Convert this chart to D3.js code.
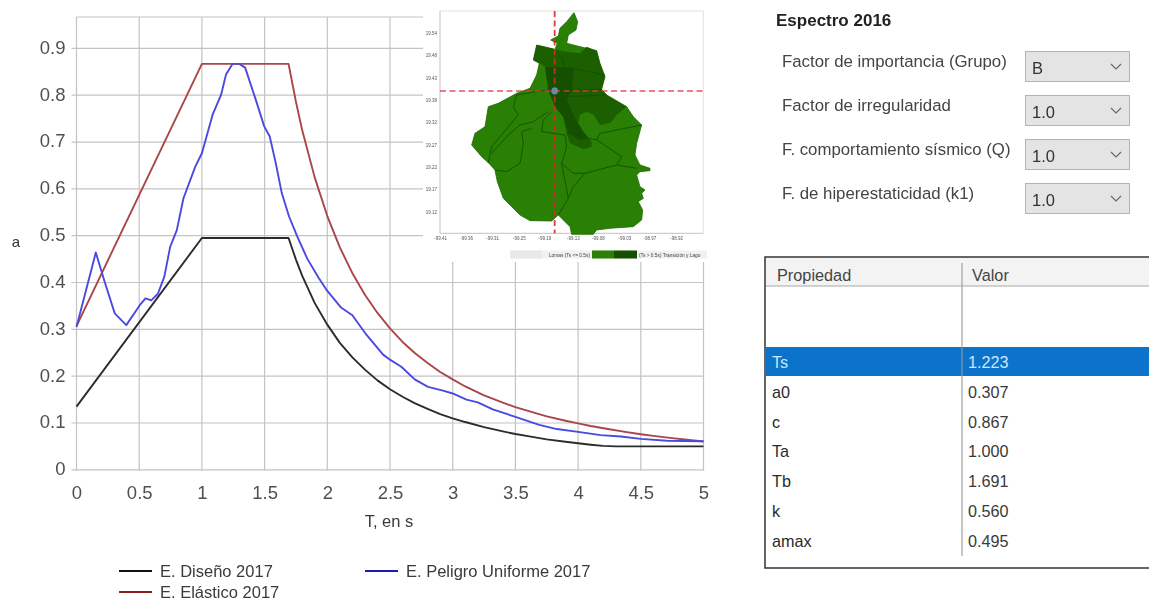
<!DOCTYPE html>
<html lang="es">
<head>
<meta charset="utf-8">
<script src="https://cdnjs.cloudflare.com/ajax/libs/d3/7.8.5/d3.min.js"></script>
<style>
html,body{margin:0;padding:0;background:#fff;overflow:hidden}
svg{display:block;font-family:"Liberation Sans",Arial,sans-serif;filter:blur(0.4px)}
</style>
</head>
<body>
<svg id="c" width="1149" height="601"></svg>
<script>
// ---------- chart data ----------
const xTicks = [0,0.5,1,1.5,2,2.5,3,3.5,4,4.5,5];
const yTicks = [0,0.1,0.2,0.3,0.4,0.5,0.6,0.7,0.8,0.9];
const disenoT = [0,1,1.691,1.75,1.8,1.9,2,2.1,2.2,2.3,2.4,2.5,2.6,2.7,2.8,2.9,3,3.1,3.25,3.4,3.5,3.6,3.75,3.9,4,4.1,4.2,4.3,5];
const disenoA = [0.135,0.495,0.495,0.449,0.414,0.356,0.31,0.271,0.24,0.214,0.191,0.172,0.156,0.142,0.13,0.119,0.11,0.102,0.091,0.082,0.0765,0.0718,0.065,0.0598,0.0566,0.0535,0.051,0.05,0.05];
const elasticoT = [0,1,1.691,1.75,1.8,1.9,2,2.1,2.2,2.3,2.4,2.5,2.6,2.7,2.8,2.9,3,3.1,3.25,3.4,3.5,3.6,3.75,3.9,4,4.1,4.25,4.35,4.5,4.6,4.75,4.85,5];
const elasticoA = [0.307,0.867,0.867,0.786,0.725,0.624,0.542,0.475,0.42,0.374,0.335,0.302,0.273,0.249,0.228,0.209,0.193,0.178,0.159,0.1435,0.134,0.1257,0.114,0.1048,0.099,0.0936,0.0865,0.082,0.076,0.0725,0.0677,0.0647,0.0605];
const peligroT = [0,0.154,0.225,0.305,0.397,0.503,0.55,0.596,0.649,0.70,0.747,0.80,0.853,0.948,1.0,1.086,1.152,1.192,1.245,1.298,1.345,1.43,1.496,1.541,1.589,1.637,1.695,1.761,1.84,1.933,2.0,2.112,2.2,2.31,2.445,2.49,2.59,2.697,2.803,2.923,3,3.11,3.2,3.32,3.5,3.69,3.83,4,4.18,4.34,4.5,4.71,5];
const peligroA = [0.305,0.464,0.401,0.334,0.309,0.351,0.366,0.362,0.376,0.412,0.476,0.512,0.58,0.648,0.676,0.759,0.80,0.844,0.867,0.867,0.859,0.79,0.734,0.712,0.655,0.591,0.541,0.498,0.451,0.409,0.382,0.346,0.33,0.289,0.246,0.237,0.22,0.193,0.177,0.169,0.163,0.15,0.144,0.129,0.113,0.096,0.087,0.081,0.074,0.071,0.066,0.062,0.061];
const seriesNames = ["E. Diseño 2017","E. Elástico 2017","E. Peligro Uniforme 2017"];
const seriesColors = ["#2c2c2c","#aa4648","#4a4ae0"];
const legendColors = ["#111111","#8e1c22","#1c1cb4"];

// ---------- side panel data ----------
const formTitle = "Espectro 2016";
const formLabels = ["Factor de importancia (Grupo)","Factor de irregularidad","F. comportamiento sísmico (Q)","F. de hiperestaticidad (k1)"];
const formValues = ["B","1.0","1.0","1.0"];
const tableHeader = ["Propiedad","Valor"];
const tableProps = ["Ts","a0","c","Ta","Tb","k","amax"];
const tableVals = ["1.223","0.307","0.867","1.000","1.691","0.560","0.495"];

// ---------- inset map data (map grid units) ----------
const mapLonLabels = ["-99.41","-99.36","-99.31","-99.25","-99.19","-99.13","-99.08","-99.03","-98.97","-98.92"];
const mapLonUnits = [62,140,218,298,375,460,535,615,690,770];
const mapLatLabels = ["19.54","19.48","19.43","19.38","19.32","19.27","19.22","19.17","19.12"];
const mapLatUnits = [100,167,235,302,369,436,503,570,637];
const cityOutline = [[462,38],[473,65],[468,90],[445,105],[440,130],[480,140],[530,152],[540,190],[555,230],[545,268],[560,285],[620,320],[640,350],[665,375],[650,430],[645,465],[660,495],[690,505],[690,512],[660,515],[650,525],[660,560],[675,570],[665,580],[670,595],[655,605],[668,630],[665,660],[640,680],[570,685],[530,690],[520,703],[455,703],[450,680],[415,645],[395,663],[330,662],[300,645],[250,595],[232,545],[225,510],[205,488],[185,470],[155,435],[165,400],[195,380],[205,320],[235,310],[290,280],[330,265],[350,225],[358,190],[340,180],[350,135],[405,148],[412,130],[392,120],[415,108],[420,85],[440,65]];
const lakeZone = [[350,135],[405,148],[440,155],[480,160],[500,140],[530,152],[540,190],[555,230],[545,268],[560,285],[620,320],[590,345],[572,368],[540,375],[522,345],[500,335],[480,345],[475,370],[490,395],[515,425],[515,440],[490,448],[450,430],[440,400],[430,350],[405,320],[385,270],[375,200],[358,190],[340,180]];
const transitionZone = [[375,200],[460,205],[455,270],[440,300],[460,345],[475,372],[490,395],[505,415],[480,420],[445,400],[430,350],[405,320],[385,270]];
const districtLines = [
 [[290,285],[280,320],[295,345],[215,440],[205,488]],
 [[385,335],[340,365],[300,375],[270,400],[215,460]],
 [[365,395],[435,405],[440,440],[425,490],[445,595],[415,645]],
 [[335,385],[305,395],[310,430],[300,490],[260,515],[225,510]],
 [[365,395],[370,360],[395,335]],
 [[530,420],[540,400],[665,375]],
 [[440,400],[530,420],[605,470],[590,495],[495,520],[460,560],[445,595]],
 [[590,495],[650,505]],
 [[425,490],[460,520],[495,520]],
 [[375,205],[460,205],[555,225]],
 [[460,205],[455,270],[545,268]],
 [[400,150],[430,180],[430,205]],
 [[290,285],[350,275],[385,270]],
 [[450,290],[560,285]]
];
const crossUnit = [404,273];
const mapLegendLabels = ["Lomas (Ts <= 0.5s)","(Ts > 0.5s) Transición y Lago"];

// ---------- drawing ----------
const svg = d3.select("#c");
const x = d3.scaleLinear().domain([0,5]).range([76.5,703.5]);
const y = d3.scaleLinear().domain([0,0.9]).range([469.8,48.4]);
const plotTop = 17;
const gridCol = "#c4c4c4";

// grid
svg.append("g").selectAll("line").data(xTicks).join("line")
  .attr("x1",d=>x(d)).attr("x2",d=>x(d)).attr("y1",plotTop).attr("y2",y(0)+1)
  .attr("stroke",gridCol).attr("stroke-width",1.2);
svg.append("g").selectAll("line").data(yTicks).join("line")
  .attr("x1",x(0)-5).attr("x2",x(5)).attr("y1",d=>y(d)).attr("y2",d=>y(d))
  .attr("stroke",gridCol).attr("stroke-width",1.2);
svg.append("line").attr("x1",x(0)).attr("x2",x(5)).attr("y1",plotTop).attr("y2",plotTop)
  .attr("stroke",gridCol).attr("stroke-width",1.2);

// axes (labels only: the grid above carries the lines)
const xAxis = svg.append("g").attr("transform",`translate(0,${y(0)})`)
  .call(d3.axisBottom(x).tickValues(xTicks).tickFormat(d3.format("~g")).tickSize(0).tickPadding(16));
const yAxis = svg.append("g").attr("transform",`translate(${x(0)},-1)`)
  .call(d3.axisLeft(y).tickValues(yTicks).tickFormat(d3.format("~g")).tickSize(0).tickPadding(11));
[xAxis,yAxis].forEach(a=>{a.select(".domain").remove();
  a.selectAll("text").attr("font-size",18.5).attr("font-family","'Liberation Sans',Arial,sans-serif").attr("fill","#505050");});

svg.append("text").attr("x",389).attr("y",527).attr("text-anchor","middle").attr("font-size",16.5).attr("fill","#3a3a3a").text("T, en s");
svg.append("text").attr("x",16).attr("y",247).attr("text-anchor","middle").attr("font-size",15).attr("fill","#333").text("a");

// series
const zipXY = (a,b)=>a.map((v,i)=>[v,b[i]]);
const curves = [zipXY(disenoT,disenoA),zipXY(elasticoT,elasticoA),zipXY(peligroT,peligroA)];
const line = d3.line().x(d=>x(d[0])).y(d=>y(d[1]));
svg.append("g").selectAll("path").data(curves).join("path")
  .attr("d",d=>line(d))
  .attr("fill","none").attr("stroke-linejoin","round").attr("stroke",(d,i)=>seriesColors[i]).attr("stroke-width",1.9);

// legend
const legendPos = [[119,571],[119,592],[365,571]];
const lg = svg.append("g").selectAll("g").data(seriesNames).join("g")
  .attr("transform",(d,i)=>`translate(${legendPos[i][0]},${legendPos[i][1]})`);
lg.append("line").attr("x1",0).attr("x2",33).attr("stroke",(d,i)=>legendColors[i]).attr("stroke-width",2);
lg.append("text").attr("x",41).attr("y",5.5).attr("font-size",16.5).attr("fill","#3a3a3a").text(d=>d);

// inset map
const mx = d3.scaleLinear().domain([60,850]).range([440,703.3]);
const my = d3.scaleLinear().domain([33,700]).range([11,233.3]);
const mapG = svg.append("g");
mapG.append("rect").attr("x",423).attr("y",8).attr("width",285).attr("height",254).attr("fill","#fff");
const mapBody = mapG.append("g").style("filter","blur(0.7px)");
mapBody.append("path").attr("d",`M${mx(60)},${my(33)}H${mx(850)}V${my(700)}`).attr("fill","none").attr("stroke","#e2e2e2").attr("stroke-width",1);
mapBody.append("path").attr("d",`M${mx(60)},${my(33)}V${my(700)}H${mx(850)}`).attr("fill","none").attr("stroke","#c2c2c2").attr("stroke-width",1);
const mline = d3.line().x(d=>mx(d[0])).y(d=>my(d[1]));
mapBody.append("path").attr("d",mline(cityOutline)+"Z").attr("fill","#2a8004").attr("stroke","#1d6a00").attr("stroke-width",0.8);
mapBody.append("path").attr("d",mline(lakeZone)+"Z").attr("fill","#1b5f00");
mapBody.append("path").attr("d",mline(transitionZone)+"Z").attr("fill","#145000");
mapBody.append("g").selectAll("path").data(districtLines).join("path").attr("d",d=>mline(d))
  .attr("fill","none").attr("stroke","#134f00").attr("stroke-width",0.9);
mapBody.append("line").attr("x1",mx(60)).attr("x2",mx(850)).attr("y1",my(crossUnit[1])).attr("y2",my(crossUnit[1]))
  .attr("stroke","#e8304a").attr("stroke-width",1.3).attr("stroke-dasharray","6 3.5").attr("opacity",0.85);
mapBody.append("line").attr("x1",mx(crossUnit[0])).attr("x2",mx(crossUnit[0])).attr("y1",my(33)).attr("y2",my(700))
  .attr("stroke","#d42a2a").attr("stroke-width",1.8).attr("stroke-dasharray","6 3.5").attr("opacity",0.9);
mapBody.append("circle").attr("cx",mx(crossUnit[0])).attr("cy",my(crossUnit[1])).attr("r",3.4).attr("fill","#6c88a8");
mapBody.append("g").selectAll("text").data(mapLonLabels).join("text")
  .attr("x",(d,i)=>mx(mapLonUnits[i])).attr("y",my(700)+7).attr("text-anchor","middle").attr("font-size",4.5).attr("fill","#555").text(d=>d);
mapBody.append("g").selectAll("text").data(mapLatLabels).join("text")
  .attr("x",mx(60)-3).attr("y",(d,i)=>my(mapLatUnits[i])+1.5).attr("text-anchor","end").attr("font-size",4.5).attr("fill","#555").text(d=>d);
// map legend
mapBody.append("rect").attr("x",510).attr("y",250.5).attr("width",197).attr("height",8).attr("fill","#f1f1f1");
mapBody.append("rect").attr("x",510).attr("y",250.5).attr("width",32).attr("height",8).attr("fill","#e9e9e9");
mapBody.append("rect").attr("x",592).attr("y",250.5).attr("width",22).attr("height",8).attr("fill","#2a8004");
mapBody.append("rect").attr("x",614).attr("y",250.5).attr("width",23).attr("height",8).attr("fill","#145000");
mapBody.append("text").attr("x",590).attr("y",256.5).attr("text-anchor","end").attr("font-size",4.8).attr("fill","#444").text(mapLegendLabels[0]);
mapBody.append("text").attr("x",639).attr("y",256.5).attr("font-size",4.8).attr("fill","#444").text(mapLegendLabels[1]);

// form panel
svg.append("text").attr("x",776).attr("y",26).attr("font-size",17).attr("font-weight","bold").attr("fill","#222").text(formTitle);
const rowY = d3.scaleLinear().domain([0,3]).range([51,183]);
const fg = svg.append("g").selectAll("g").data(formLabels).join("g").attr("transform",(d,i)=>`translate(0,${rowY(i)})`);
fg.append("text").attr("x",782).attr("y",15.5).attr("font-size",16.8).attr("fill","#444").text(d=>d);
fg.append("rect").attr("x",1025.5).attr("y",0.5).attr("width",104).attr("height",30).attr("fill","#e4e4e4").attr("stroke","#b4b4b4");
fg.append("text").attr("x",1032).attr("y",22.5).attr("font-size",16.5).attr("fill","#333").text((d,i)=>formValues[i]);
fg.append("path").attr("d","M1111,13l5,5l5,-5").attr("fill","none").attr("stroke","#666").attr("stroke-width",1.1);

// table
const rowH = 29.8;
svg.append("rect").attr("x",765).attr("y",257).attr("width",390).attr("height",311).attr("fill","#fff").attr("stroke","#333").attr("stroke-width",1.5);
svg.append("rect").attr("x",766).attr("y",258).attr("width",383).attr("height",28).attr("fill","#f3f3f3");
svg.append("line").attr("x1",766).attr("x2",1149).attr("y1",286).attr("y2",286).attr("stroke","#a8a8a8");
svg.append("rect").attr("x",766).attr("y",347).attr("width",383).attr("height",29).attr("fill","#0b73c9");
svg.append("line").attr("x1",962).attr("x2",962).attr("y1",263).attr("y2",556).attr("stroke","#9a9a9a").attr("stroke-width",1.1);
svg.append("text").attr("x",777).attr("y",280.5).attr("font-size",16.3).attr("fill","#444").text(tableHeader[0]);
svg.append("text").attr("x",972).attr("y",280.5).attr("font-size",16.3).attr("fill","#444").text(tableHeader[1]);
const tr = svg.append("g").selectAll("g").data(tableProps).join("g").attr("transform",(d,i)=>`translate(0,${368+i*rowH})`);
tr.append("text").attr("x",772).attr("font-size",16.2).attr("fill",(d,i)=>i===0?"#cfe6f8":"#2a2a2a").text(d=>d);
tr.append("text").attr("x",968).attr("font-size",16.2).attr("fill",(d,i)=>i===0?"#cfe6f8":"#3a3a3a").text((d,i)=>tableVals[i]);
</script>
</body>
</html>
